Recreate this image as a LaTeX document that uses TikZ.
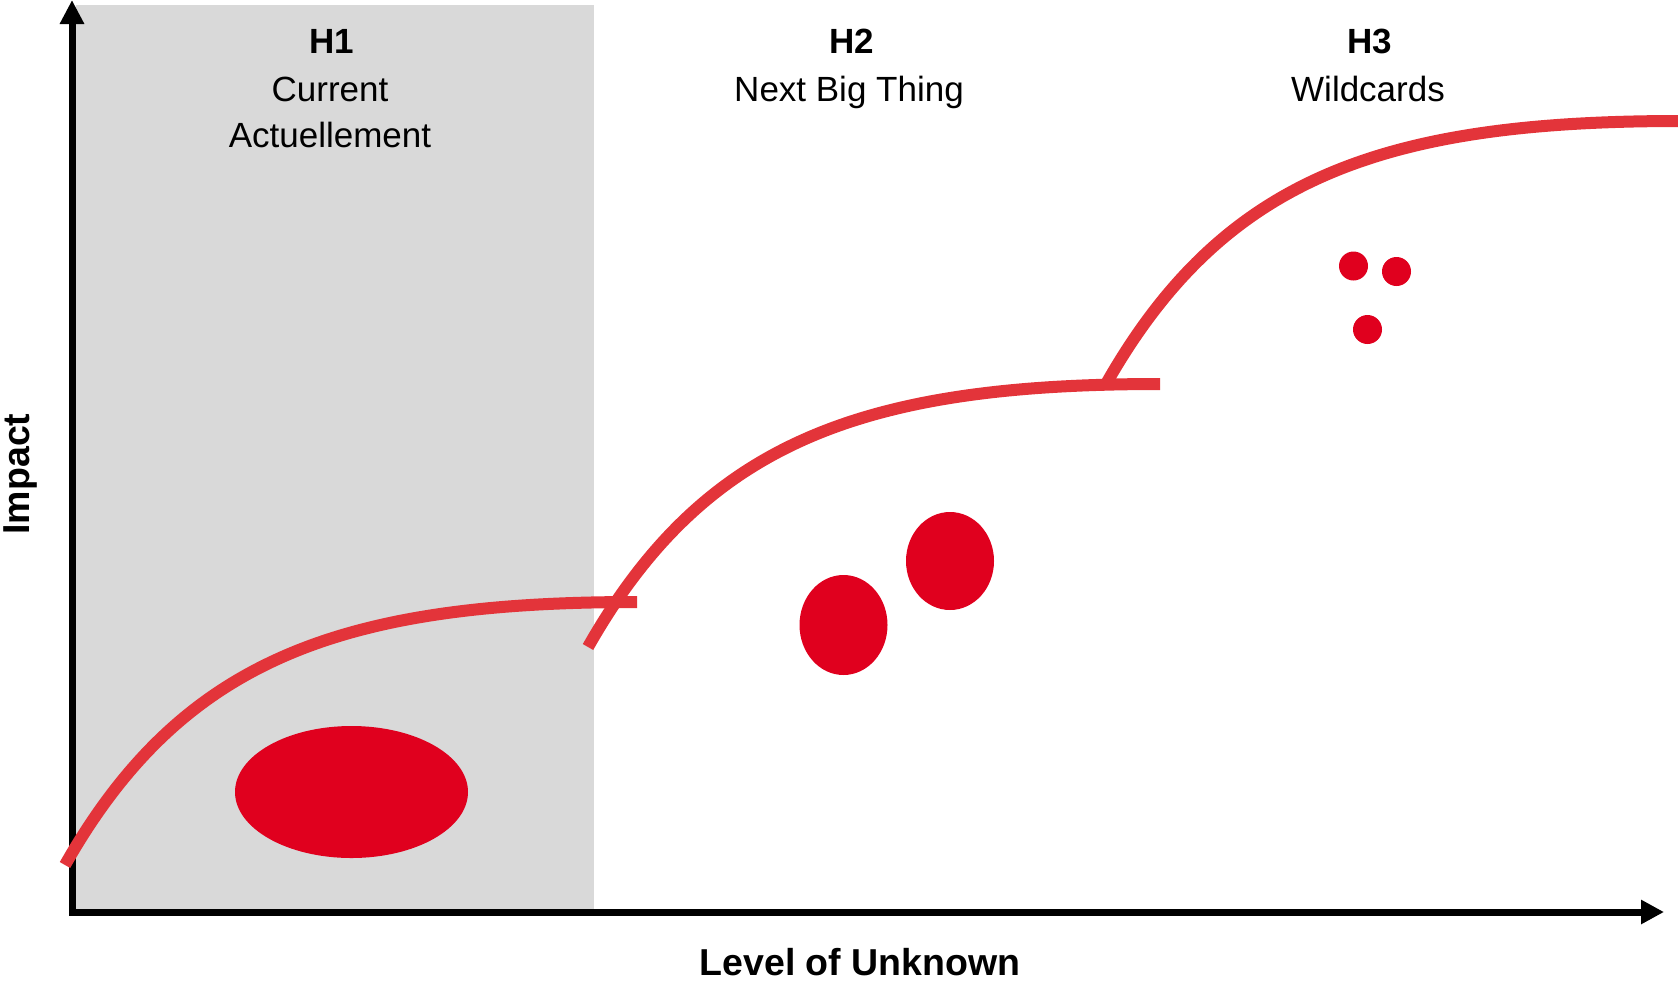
\documentclass[tikz,border=0pt]{standalone}
\usepackage{fontspec}
\setmainfont{Liberation Sans}
\usetikzlibrary{arrows.meta}
\definecolor{curvered}{RGB}{227,52,58}
\definecolor{blobred}{RGB}{224,0,30}
\definecolor{zonegray}{RGB}{217,217,217}
\tikzset{
  curve/.style={draw=curvered, line width=12pt},
  blob/.style={fill=blobred},
  axis/.style={line width=7pt, black},
  hlab/.style={font=\fontsize{35}{42}\selectfont\bfseries, anchor=base},
  sublab/.style={font=\fontsize{35}{42}\selectfont, anchor=base},
  axlab/.style={font=\fontsize{37.5}{45}\selectfont\bfseries},
}
\begin{document}
\begin{tikzpicture}[x=1pt,y=-1pt]
\useasboundingbox (0,0) rectangle (1678,980);
% H1 zone
\fill[zonegray] (76,5) rectangle (594,909);
% axes
\coordinate (ytop) at (72,0);
\coordinate (origin) at (72,912);
\coordinate (xend) at (1664,912);
\draw[axis, {Triangle[length=24pt,width=23pt]}-{Triangle[length=23pt,width=23pt]}, line join=miter]
  (ytop) -- (origin) -- (xend);
% curves
\draw[curve] (65,865) .. controls (182,659) and (341,602) .. (637,602);
\draw[curve] (588,647) .. controls (705,441) and (864,384) .. (1160,384);
\draw[curve] (1106,384) .. controls (1223,178) and (1382,121) .. (1680,121);
% blobs
\fill[blob] (351.5,792) ellipse [x radius=116.5, y radius=66];
\fill[blob] (843.5,625) ellipse [x radius=44, y radius=50];
\fill[blob] (950,561) ellipse [x radius=44, y radius=49];
\fill[blob] (1353.5,266) circle [radius=14.5];
\fill[blob] (1396.5,271.5) circle [radius=14.5];
\fill[blob] (1367.5,329.5) circle [radius=14.5];
% labels
\node[hlab] (h1) at (332,53) {H1};
\node[sublab] (h1a) at (330,101) {Current};
\node[sublab] (h1b) at (330,147) {Actuellement};
\node[hlab] (h2) at (852,53) {H2};
\node[sublab] (h2a) at (849,101) {Next Big Thing};
\node[hlab] (h3) at (1370,53) {H3};
\node[sublab] (h3a) at (1368,101) {Wildcards};
\node[axlab, rotate=90] (ylab) at (20,474) {Impact};
\node[axlab] (xlab) at (860,962) {Level of Unknown};
\end{tikzpicture}
\end{document}
